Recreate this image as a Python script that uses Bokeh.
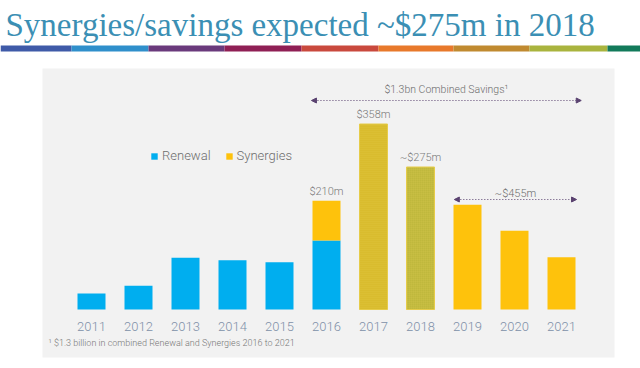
from bokeh.plotting import figure
from bokeh.models import Range1d, ColumnDataSource, Arrow, NormalHead, Legend, LegendItem
from bokeh.core.properties import value
from bokeh.embed import file_html
from bokeh.resources import INLINE

# ---------------- data ----------------
years = [2011, 2012, 2013, 2014, 2015, 2016, 2017, 2018, 2019, 2020, 2021]
year_labels = [str(y) for y in years]
renewal = [31, 46, 100, 95, 91, 133, 0, 0, 0, 0, 0]
synergies = [0, 0, 0, 0, 0, 77, 358, 275, 202, 152, 101]
value_labels = ["", "", "", "", "", "$210m", "$358m", "~$275m", "", "", ""]
series_names = ["Renewal", "Synergies"]
title_text = "Synergies/savings expected ~$275m in 2018"
combined_label = "$1.3bn Combined Savings\u00b9"
later_label = "~$455m"
footnote_text = "\u00b9 $1.3 billion in combined Renewal and Synergies 2016 to 2021"

# ---------------- styles ----------------
BLUE = "#00aeef"
YELLOW = "#fec20c"
CLEAR = "rgba(0,0,0,0)"
syn_fill = {2017: "#d9bc2e", 2018: "#bfb83c"}
syn_hatch = {2017: "horizontal_line", 2018: "cross"}
syn_colors = [syn_fill.get(y, YELLOW) for y in years]
syn_hatches = [syn_hatch.get(y, " ") for y in years]
syn_lines = ["#e6cc4a" if y in syn_fill else CLEAR for y in years]
FONT = "Roboto Light, Roboto"

W, H = 640, 368
OFF = 0
PX_PER_YEAR = 47.0
M_PER_PX = 1.93
X0_REF = 91.0           # centre of first bar in reference pixels
BASE_REF = 309.0        # bar baseline in reference pixels
BAR_W = 28 / PX_PER_YEAR

x_start = years[0] - (X0_REF - OFF) / PX_PER_YEAR
x_end = x_start + W / PX_PER_YEAR
y_start = -(H - (BASE_REF - OFF)) * M_PER_PX
y_end = y_start + H * M_PER_PX


def fx(X):
    return x_start + (X - OFF) / PX_PER_YEAR


def fy(Y):
    return y_end - (Y - OFF) * M_PER_PX


p = figure(width=W, height=H, output_backend="svg", toolbar_location=None,
           x_range=Range1d(x_start, x_end), y_range=Range1d(y_start, y_end),
           min_border=0, min_border_left=0, min_border_right=0,
           min_border_top=0, min_border_bottom=0)
p.axis.visible = False
p.grid.visible = False
p.outline_line_color = None
p.background_fill_color = "white"
p.border_fill_color = "white"

# background panel
p.quad(left=[fx(42)], right=[fx(614)], top=[fy(68)], bottom=[fy(357)],
       fill_color="#f2f2f2", line_color=None)

# colour stripe under the title
edges = [0, 71, 148, 224, 301, 378, 453, 529, 607, 640]
stripe_colors = ["#3f5aa8", "#2f8fcb", "#6a3a7c", "#8f1f55", "#c9493d",
                 "#e8792b", "#c08a30", "#a9b43e", "#127a5a"]
p.quad(left=[fx(e) for e in edges[:-1]], right=[fx(e) for e in edges[1:]],
       top=[fy(45)] * 9, bottom=[fy(51)] * 9, fill_color=stripe_colors,
       line_color=None)

# title
p.text(x=[fx(5)], y=[fy(6)], text=[title_text], text_baseline="top",
       text_align="left", text_font=value("Liberation Serif"),
       text_font_size="33px", text_color="#3b8fb4")

# bars
totals = [r + s for r, s in zip(renewal, synergies)]
src = ColumnDataSource(dict(year=years, renewal=renewal, synergies=synergies,
                            total=totals, syn_color=syn_colors,
                            syn_hatch=syn_hatches, syn_line=syn_lines,
                            vlabel=value_labels, ylabel=year_labels))
r_ren = p.vbar(x="year", top="renewal", bottom=0, width=BAR_W,
               source=src, fill_color=BLUE, line_color=None)
r_syn = p.vbar(x="year", top="total", bottom="renewal", width=BAR_W,
               source=src, fill_color="syn_color", line_color="syn_line",
               hatch_pattern="syn_hatch", hatch_color="#ecd665",
               hatch_alpha=0.18, hatch_scale=2, hatch_weight=1)

# value labels
p.text(x="year", y="total", text="vlabel", source=src, text_align="center",
       text_baseline="bottom", y_offset=-3, text_font=value(FONT),
       text_font_size="11px", text_color="#7b7b7b")

# year labels
p.text(x="year", y=0, text="ylabel", source=src, text_align="center",
       text_baseline="middle", y_offset=17, text_font=value(FONT),
       text_font_size="13px", text_color="#8090a8")

# arrows
ARROW_C = "#5a4270"
p.add_layout(Arrow(x_start=years[5] - 0.32, x_end=years[-1] + 0.42,
                   y_start=fy(100), y_end=fy(100),
                   start=NormalHead(size=5, fill_color=ARROW_C, line_color=ARROW_C),
                   end=NormalHead(size=5, fill_color=ARROW_C, line_color=ARROW_C),
                   line_color=ARROW_C, line_dash="1 2", line_width=1))
p.add_layout(Arrow(x_start=years[8] - 0.28, x_end=years[-1] + 0.32,
                   y_start=fy(199), y_end=fy(199),
                   start=NormalHead(size=5, fill_color=ARROW_C, line_color=ARROW_C),
                   end=NormalHead(size=5, fill_color=ARROW_C, line_color=ARROW_C),
                   line_color=ARROW_C, line_dash="1 2", line_width=1))

p.text(x=[(years[5] - 0.32 + years[-1] + 0.42) / 2], y=[fy(89)],
       text=[combined_label], text_align="center", text_baseline="middle",
       text_font=value(FONT), text_font_size="10.5px", text_color="#6e6e6e")
p.text(x=[(years[8] - 0.28 + years[-1] + 0.32) / 2], y=[fy(193)],
       text=[later_label], text_align="center", text_baseline="middle",
       text_font=value(FONT), text_font_size="11px", text_color="#6e6e6e")

# footnote
p.text(x=[fx(48)], y=[fy(342)], text=[footnote_text], text_align="left",
       text_baseline="middle", text_font=value(FONT), text_font_size="9px",
       text_color="#777777")

# legend
legend = Legend(items=[LegendItem(label=series_names[0], renderers=[r_ren], index=0),
                       LegendItem(label=series_names[1], renderers=[r_syn], index=5)],
                orientation="horizontal", location=(150, 205),
                glyph_width=8, glyph_height=8, label_standoff=4, spacing=14,
                padding=0, margin=0, border_line_color=None,
                background_fill_alpha=0, label_text_font=FONT,
                label_text_font_size="13px", label_text_color="#6e6e6e")
p.add_layout(legend)

open("out.html", "w").write(file_html(p, INLINE))
